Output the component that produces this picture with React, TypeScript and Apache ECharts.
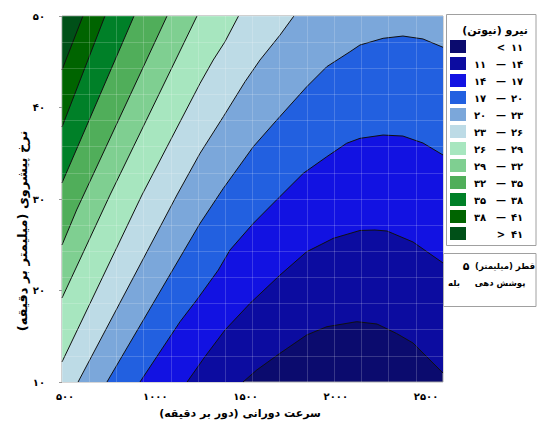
import React, { useEffect, useRef } from "react";
import * as echarts from "echarts";

// ---- data ----
const xTicks = [500, 1000, 1500, 2000, 2500];
const yMin = 10;
const yMax = 50;
const xMin = 483;
const xMax = 2594;
const levels = [11, 14, 17, 20, 23, 26, 29, 32, 35, 38, 41];
const bandColors = [
  "#0b0b6e", "#0c0ca0", "#1212e2", "#2260e0", "#7ba7da", "#bddbe6",
  "#a7e6bf", "#7fcf91", "#50ae5a", "#008028", "#006400", "#005018",
];
// contour boundaries [speed, feed]
const c11 = [[1486, 10], [1562, 11.31], [1691, 13.14], [1839, 15.14], [1950, 16.04], [2116, 16.59], [2228, 16.34], [2337, 15.3], [2428, 14.26], [2594, 10.98]];
const c14 = [[1176, 10], [1275, 12.77], [1386, 15.68], [1525, 18.6], [1691, 21.69], [1839, 24.24], [1986, 25.7], [2134, 26.56], [2217, 26.61], [2284, 26.5], [2428, 25.3], [2594, 23.01]];
const c17 = [[915, 10], [1137, 16.59], [1229, 18.96], [1349, 22.24], [1414, 24.43], [1543, 27.34], [1681, 30.08], [1820, 32.81], [1950, 34.62], [2060, 36.09], [2134, 36.63], [2262, 36.99], [2372, 36.88], [2483, 36.12], [2594, 34.81]];
const c20 = [[732, 10], [1248, 27.34], [1377, 31.17], [1543, 35.72], [1673, 38.63], [1839, 42.27], [1950, 44.46], [2079, 46.1], [2134, 46.83], [2262, 47.56], [2372, 47.81], [2483, 47.49], [2594, 46.58]];
const c23 = [[572, 10], [1120, 30.44], [1248, 35.0], [1377, 39.0], [1497, 42.82], [1580, 45.19], [1691, 47.92], [1768, 50]];
const c26 = [[483, 12.19], [926, 30.44], [1248, 42.64], [1321, 45.19], [1386, 47.19], [1461, 50]];
const c29 = [[483, 19.18], [749, 30.44], [1231, 50]];
const c32 = [[483, 24.97], [564, 28.8], [1065, 50]];
const c35 = [[483, 31.75], [882, 50]];
const c38 = [[483, 37.87], [721, 50]];
const c41 = [[483, 44.1], [599, 50]];
const boundaries = [c11, c14, c17, c20, c23, c26, c29, c32, c35, c38, c41];

const xTitle = "\u200Fسرعت دورانی (دور بر دقیقه)\u200F";
const yTitle = "\u200Fنرخ پیشروی (میلیمتر بر دقیقه)\u200F";
const legendTitle = "\u200Fنیرو (نیوتن)\u200F";
const infoRows = [
  ["\u200Fقطر (میلیمتر)\u200F", "5"],
  ["\u200Fپوشش دهی\u200F", "بله"],
];

const toFa = (n: number | string) =>
  String(n).replace(/\d/g, (d) => "۰۱۲۳۴۵۶۷۸۹"[+d]);

const FONT = "DejaVu Sans";

function perim(p: number[]) {
  const [x, y] = p;
  if (Math.abs(y - yMin) < 1e-6) return (x - xMin) / (xMax - xMin);
  if (Math.abs(x - xMax) < 1e-6) return 1 + (y - yMin) / (yMax - yMin);
  if (Math.abs(y - yMax) < 1e-6) return 2 + (xMax - x) / (xMax - xMin);
  return 3 + (yMax - y) / (yMax - yMin);
}
function closeRegion(pts: number[][]) {
  const corners = [[xMin, yMin], [xMax, yMin], [xMax, yMax], [xMin, yMax]];
  const out = pts.slice();
  const te = perim(pts[pts.length - 1]);
  let ts = perim(pts[0]);
  if (ts <= te) ts += 4;
  for (let k = Math.floor(te) + 1; k < ts; k++) out.push(corners[k % 4]);
  return out;
}

export default function App() {
  const ref = useRef<HTMLDivElement>(null);
  useEffect(() => {
    if (!ref.current) return;
    const chart = echarts.init(ref.current, undefined, { renderer: "svg" });

    const txt = (s: string, x: number, y: number, size: number, extra: any = {}) => ({
      type: "text",
      x,
      y,
      style: {
        text: s,
        fontFamily: FONT,
        fontWeight: "bold",
        fontSize: size,
        fill: "#000",
        align: "center",
        verticalAlign: "middle",
      },
      ...extra,
    });

    const graphic: any[] = [
      { type: "rect", shape: { x: 446.5, y: 14.5, width: 89.5, height: 231 }, style: { fill: "#fff", stroke: "#a0a0a0", lineWidth: 1 } },
      txt(legendTitle, 495, 30, 11),
      { type: "rect", shape: { x: 443.5, y: 253.5, width: 92.5, height: 53 }, style: { fill: "#fff", stroke: "#a0a0a0", lineWidth: 1 } },
      txt(infoRows[0][0], 505, 266, 8.5),
      txt(toFa(infoRows[0][1]), 466, 266, 11),
      txt(infoRows[1][0], 500, 283, 8.5),
      txt(infoRows[1][1], 454, 283, 8.5),
      txt(xTitle, 240, 413, 11),
      txt(yTitle, 22, 231, 13, { rotation: Math.PI / 2 }),
    ];
    bandColors.forEach((c, i) => {
      const y = 40 + i * 17;
      graphic.push({ type: "rect", shape: { x: 450, y, width: 16, height: 13 }, style: { fill: c } });
      const last = bandColors.length - 1;
      const left = i === 0 || i === last ? "" : toFa(levels[i - 1]);
      const mid = i === 0 ? "<" : i === last ? ">" : "—";
      const right = i === last ? toFa(levels[levels.length - 1]) : toFa(levels[i]);
      if (left) graphic.push(txt(left, 480, y + 7, 10));
      graphic.push(txt(mid, 501, y + 7, 10));
      graphic.push(txt(right, 517, y + 7, 10));
    });

    const lineSeries = boundaries.map((b, i) => ({
      type: "line",
      name: "L" + levels[i],
      data: b,
      showSymbol: false,
      symbol: "none",
      silent: true,
      z: 4,
      lineStyle: { color: "#111", width: 1 },
    }));

    chart.setOption({
      animation: false,
      grid: {
        left: 62,
        top: 16,
        right: 94,
        bottom: 40,
        show: true,
        backgroundColor: bandColors[0],
        borderColor: "#a0a0a0",
        borderWidth: 1,
      },
      xAxis: [
        {
          type: "value",
          min: xMin,
          max: xMax,
          axisLine: { show: false },
          axisTick: { show: false },
          splitLine: { show: false },
          axisLabel: {
            customValues: xTicks,
            formatter: (v: number) => toFa(v),
            fontFamily: FONT,
            fontWeight: "bold",
            fontSize: 10,
            color: "#000",
            margin: 9,
          },
        },
        {
          type: "value",
          min: 0,
          max: 14,
          interval: 1,
          position: "top",
          z: 10,
          axisLine: { show: false },
          axisTick: { show: false },
          axisLabel: { show: false },
          splitLine: { show: true, lineStyle: { color: "rgba(255,255,255,0.18)", width: 1 } },
        },
      ],
      yAxis: [
        {
          type: "value",
          min: yMin,
          max: yMax,
          interval: 10,
          axisLine: { show: false },
          axisTick: { show: true, length: 3, lineStyle: { color: "#999" } },
          splitLine: { show: false },
          axisLabel: {
            formatter: (v: number) => toFa(v),
            fontFamily: FONT,
            fontWeight: "bold",
            fontSize: 10,
            color: "#000",
            margin: 17,
          },
        },
        {
          type: "value",
          min: 0,
          max: 14,
          interval: 1,
          position: "right",
          z: 10,
          axisLine: { show: false },
          axisTick: { show: false },
          axisLabel: { show: false },
          splitLine: { show: true, lineStyle: { color: "rgba(255,255,255,0.18)", width: 1 } },
        },
      ],
      graphic,
      series: [
        {
          type: "custom",
          name: "bands",
          silent: true,
          z: 2,
          data: boundaries.map((b, i) => [b[0][0], b[0][1], i]),
          renderItem: (params: any, api: any) => {
            const i = api.value(2);
            const poly = closeRegion(boundaries[i]).map((p) => api.coord(p));
            return {
              type: "polygon",
              shape: { points: poly },
              style: { fill: bandColors[i + 1], stroke: null },
            };
          },
        },
        ...lineSeries,
      ],
    });
    return () => chart.dispose();
  }, []);
  return (
    <div
      ref={ref}
      style={{ position: "fixed", left: 0, top: 0, width: 537, height: 422, background: "#fff" }}
    />
  );
}
